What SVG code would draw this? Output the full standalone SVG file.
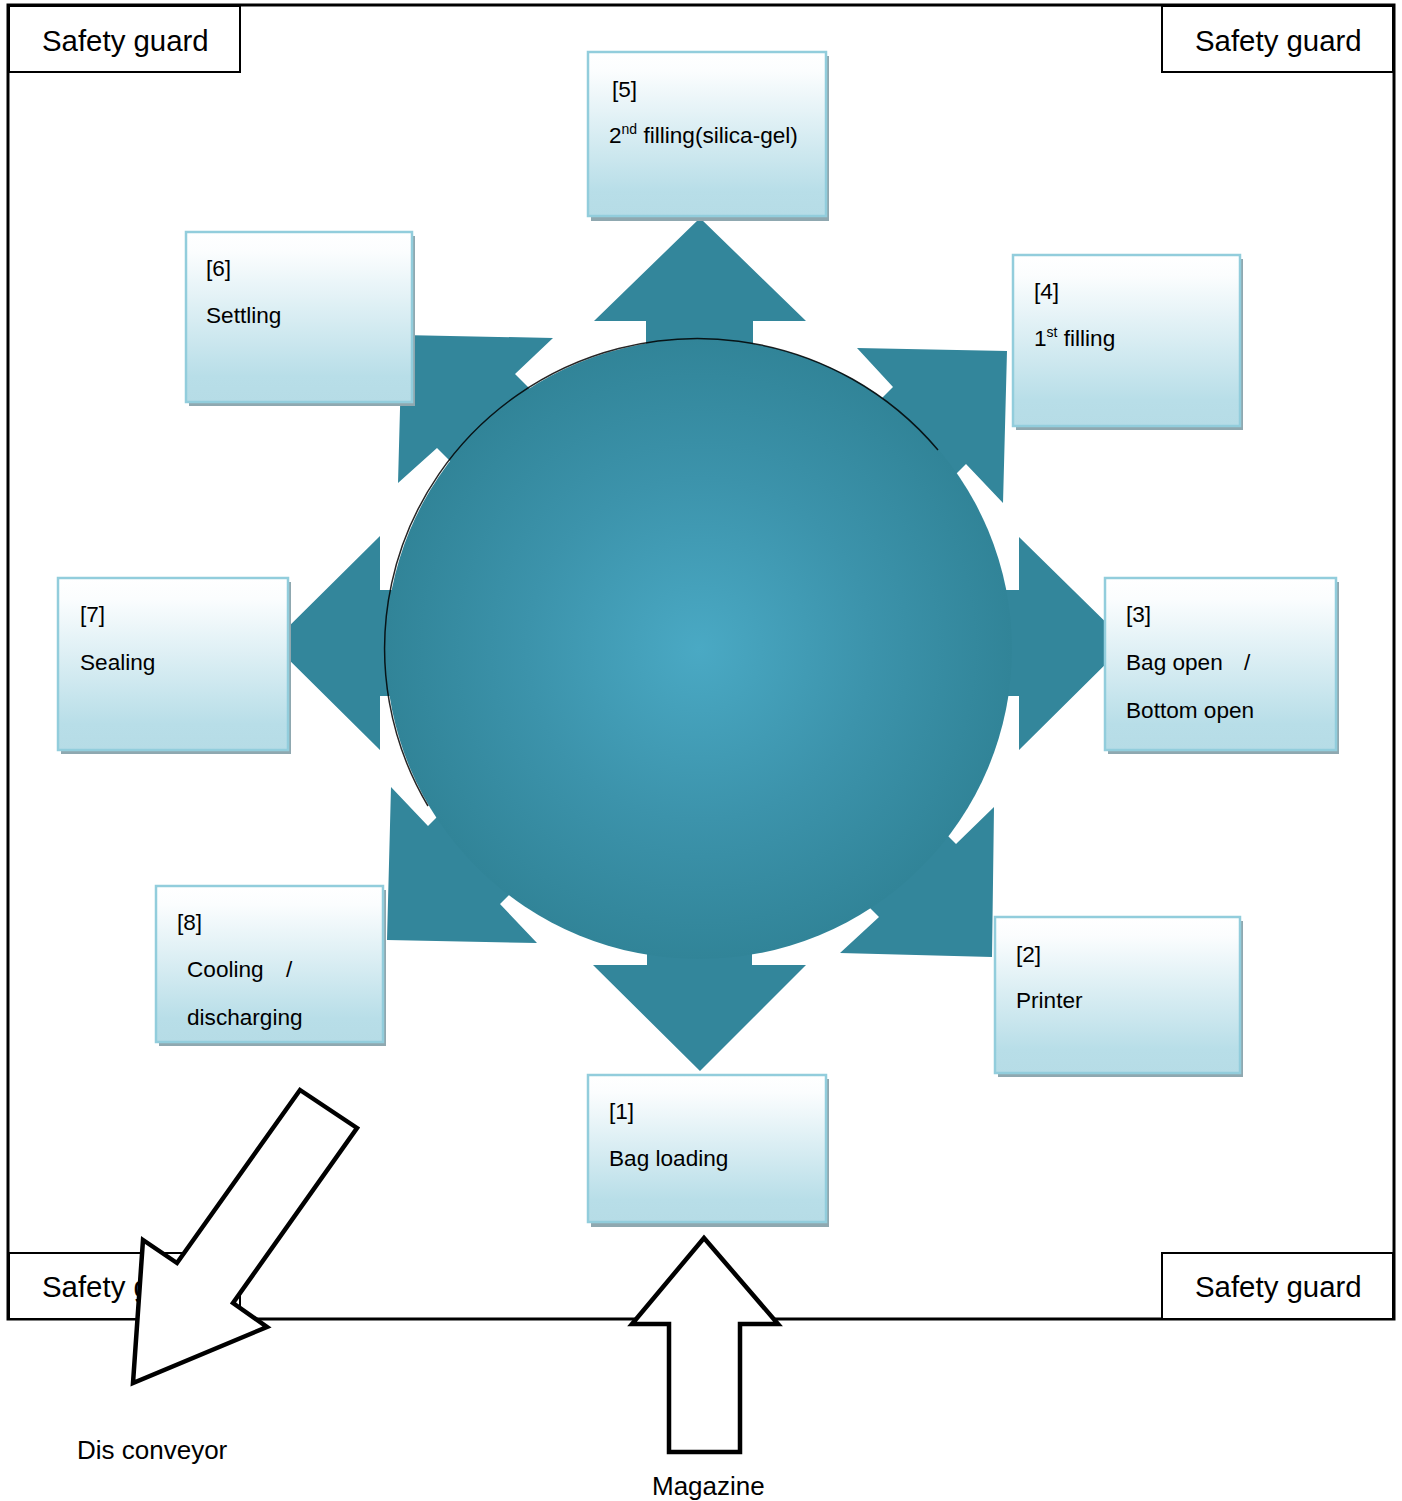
<svg xmlns="http://www.w3.org/2000/svg" width="1402" height="1501" viewBox="0 0 1402 1501">
<defs>
<linearGradient id="boxg" x1="0" y1="0" x2="0" y2="1">
<stop offset="0" stop-color="#ffffff"/>
<stop offset="0.12" stop-color="#fbfdfe"/>
<stop offset="0.85" stop-color="#b8dee8"/>
<stop offset="1" stop-color="#b6dce6"/>
</linearGradient>
<radialGradient id="circg" cx="0.5" cy="0.5" r="0.5">
<stop offset="0" stop-color="#4aa9c4"/>
<stop offset="0.55" stop-color="#3c93ab"/>
<stop offset="1" stop-color="#318498"/>
</radialGradient>
<style>
.frame{fill:none;stroke:#000;stroke-width:3}
.guard{fill:#fff;stroke:#000;stroke-width:2}
.gt{font-family:"Liberation Sans",Arial,sans-serif;font-size:29.4px;fill:#000}
.arr{fill:#33869b;stroke:none}
.shadow{fill:#8fa8b0}
.box{fill:url(#boxg);stroke:#92cddc;stroke-width:2.5}
.t{font-family:"Liberation Sans",Arial,sans-serif;font-size:22.6px;fill:#000}
.sup{font-size:14px}
.big{fill:#fff;stroke:#000;stroke-width:4.5;stroke-linejoin:miter}
.lt{font-family:"Liberation Sans",Arial,sans-serif;font-size:26px;fill:#000}
</style>
</defs>
<rect x="0" y="0" width="1402" height="1501" fill="#fff"/>
<rect class="frame" x="8" y="5" width="1386" height="1314"/>
<g id="guard-tl"><rect class="guard" x="9" y="6" width="231" height="66"/><text class="gt" x="42" y="51">Safety guard</text></g>
<g id="guard-tr"><rect class="guard" x="1162" y="6" width="231" height="66"/><text class="gt" x="1195" y="51">Safety guard</text></g>
<g id="guard-bl"><rect class="guard" x="9" y="1253" width="231" height="66"/><text class="gt" x="42" y="1297">Safety guard</text></g>
<g id="guard-br"><rect class="guard" x="1162" y="1253" width="231" height="66"/><text class="gt" x="1195" y="1297">Safety guard</text></g>
<g id="connectors">
<polygon class="arr" points="700,218 806,321 753,321 753,520 646,520 646,321 594,321"/>
<polygon class="arr" points="700,1071 806,965 752,965 752,780 647,780 647,965 593,965"/>
<polygon class="arr" points="272,643 380,536 380,590 560,590 560,696 380,696 380,750"/>
<polygon class="arr" points="1127,643 1019,537 1019,590 840,590 840,696 1019,696 1019,750"/>
<polygon class="arr" points="402,335 553,338 515,374 621,480 543,554 437,448 398,483"/>
<polygon class="arr" points="1007,351 857,348 893,387 787,493 860,570 966,464 1003,503"/>
<polygon class="arr" points="387,940 391,787 428,826 534,720 606,798 500,904 537,943"/>
<polygon class="arr" points="992,957 994,807 956,844 850,738 773,811 879,917 840,953"/>
</g>
<g id="hub">
<ellipse cx="699" cy="649" rx="313" ry="310" fill="url(#circg)"/>
<path d="M 428,806 A 313 310 0 0 1 938,450" fill="none" stroke="#000" stroke-width="1.5" stroke-opacity="0.85"/>
</g>
<g id="n5"><rect class="shadow" x="591" y="56" width="238" height="165"/><rect class="box" x="588" y="52" width="238" height="164"/><text class="t" x="612" y="97">[5]</text><text class="t" x="609" y="143">2<tspan class="sup" dy="-9">nd</tspan><tspan dy="9"> filling(silica-gel)</tspan></text></g>
<g id="n6"><rect class="shadow" x="189" y="236" width="226" height="170"/><rect class="box" x="186" y="232" width="226" height="170"/><text class="t" x="206" y="276">[6]</text><text class="t" x="206" y="323">Settling</text></g>
<g id="n4"><rect class="shadow" x="1016" y="259" width="227" height="171"/><rect class="box" x="1013" y="255" width="227" height="171"/><text class="t" x="1034" y="299">[4]</text><text class="t" x="1034" y="346">1<tspan class="sup" dy="-9">st</tspan><tspan dy="9"> filling</tspan></text></g>
<g id="n7"><rect class="shadow" x="61" y="582" width="230" height="172"/><rect class="box" x="58" y="578" width="230" height="172"/><text class="t" x="80" y="622">[7]</text><text class="t" x="80" y="670">Sealing</text></g>
<g id="n3"><rect class="shadow" x="1108" y="582" width="231" height="172"/><rect class="box" x="1105" y="578" width="231" height="172"/><text class="t" x="1126" y="622">[3]</text><text class="t" x="1126" y="670">Bag open<tspan x="1244">/</tspan></text><text class="t" x="1126" y="718">Bottom open</text></g>
<g id="n8"><rect class="shadow" x="159" y="890" width="227" height="156"/><rect class="box" x="156" y="886" width="227" height="156"/><text class="t" x="177" y="930">[8]</text><text class="t" x="187" y="977">Cooling<tspan x="286">/</tspan></text><text class="t" x="187" y="1025">discharging</text></g>
<g id="n2"><rect class="shadow" x="998" y="921" width="245" height="156"/><rect class="box" x="995" y="917" width="245" height="156"/><text class="t" x="1016" y="962">[2]</text><text class="t" x="1016" y="1008">Printer</text></g>
<g id="n1"><rect class="shadow" x="591" y="1079" width="238" height="148"/><rect class="box" x="588" y="1075" width="238" height="147"/><text class="t" x="609" y="1119">[1]</text><text class="t" x="609" y="1166">Bag loading</text></g>
<g id="dis-arrow"><polygon class="big" points="300,1090 357,1128 233,1303 267,1327 133,1383 143,1240 177,1263"/></g>
<g id="mag-arrow"><polygon class="big" points="704,1238 778,1324 740,1324 740,1452 669,1452 669,1324 632,1324"/></g>
<text class="lt" x="77" y="1459">Dis conveyor</text>
<text class="lt" x="652" y="1495">Magazine</text>
</svg>
